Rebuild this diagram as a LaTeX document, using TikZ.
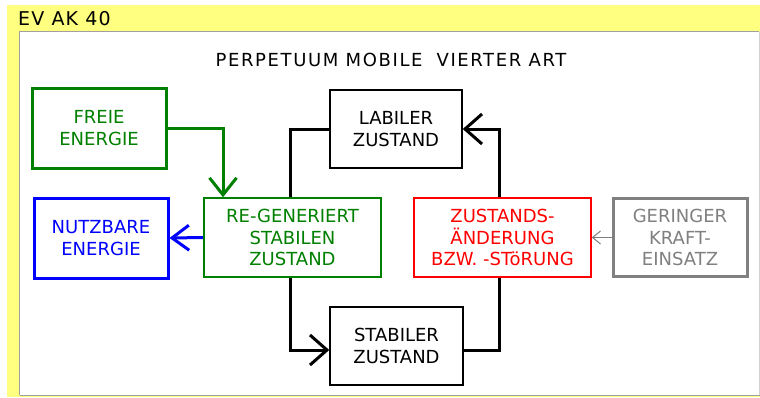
\documentclass[tikz,border=0pt]{standalone}
\usepackage{fontspec}
\setmainfont{DejaVu Sans}
\usetikzlibrary{arrows.meta}
\pgfdeclarelayer{bg}
\pgfsetlayers{bg,main}

\definecolor{panelyellow}{RGB}{255,255,128}
\definecolor{dkgreen}{RGB}{0,128,0}
\definecolor{pureblue}{RGB}{0,0,255}
\definecolor{purered}{RGB}{255,0,0}
\definecolor{midgray}{RGB}{128,128,128}
\definecolor{edgegray}{RGB}{160,160,160}
\definecolor{lightedge}{RGB}{210,210,210}

\newcommand\boxfont{\fontsize{18}{21.5}\selectfont}

\tikzset{
  stbox/.style={draw, fill=white, align=center, inner sep=0pt, font=\boxfont},
  thickbox/.style={stbox, line width=3pt},
  thinbox/.style={stbox, line width=1.5pt},
  inkcol/.style={draw=#1, text=#1},
  flow/.style={line width=3pt},
  bigbarb/.style={-{Straight Barb[length=17pt, width=30pt]}},
}

\begin{document}
\begin{tikzpicture}[x=1pt, y=-1pt]
\useasboundingbox (0,0) rectangle (760,397);

% window frame and drawing panel
\begin{pgfonlayer}{bg}
  \fill[panelyellow] (7,5) rectangle (760,397);
  \fill[white] (19,31) rectangle (758.5,395);
  \draw[edgegray, line width=1.5pt] (19.5,395) -- (19.5,31.5) -- (758.5,31.5);
  \draw[lightedge, line width=1pt] (759,31.5) -- (759,395);
  \draw[edgegray, line width=1.5pt] (19.5,395.5) -- (760,395.5);
\end{pgfonlayer}

\node[font=\fontsize{19}{22}\selectfont, anchor=west, inner sep=0pt] (wintitle) at (18,19)
  {\addfontfeature{LetterSpace=6}EV AK 40};
\node[font=\boxfont, inner sep=0pt] (heading) at (391,60)
  {\addfontfeature{LetterSpace=9}PERPETUUM MOBILE\hspace{14pt}VIERTER ART};

% boxes
\node[thickbox, inkcol=dkgreen, minimum width=134pt, minimum height=80pt] (freie) at (99,128)
  {FREIE\\ENERGIE};
\node[thickbox, inkcol=pureblue, minimum width=134pt, minimum height=80pt] (nutz) at (101,238)
  {NUTZBARE\\ENERGIE};
\node[thinbox, inkcol=dkgreen, minimum width=177pt, minimum height=79pt] (regen) at (292.5,237.5)
  {RE-GENERIERT\\STABILEN\\ZUSTAND};
\node[thinbox, inkcol=black, minimum width=132pt, minimum height=78pt] (labil) at (396,129)
  {LABILER\\ZUSTAND};
\node[thinbox, inkcol=black, minimum width=133pt, minimum height=78pt] (stabil) at (396.5,346)
  {STABILER\\ZUSTAND};
\node[thinbox, inkcol=purered, minimum width=177pt, minimum height=79pt] (zust) at (502.5,237.5)
  {ZUSTANDS-\\ÄNDERUNG\\BZW. -STöRUNG};
\node[thickbox, inkcol=midgray, minimum width=134pt, minimum height=78pt] (gering) at (680,237.5)
  {GERINGER\\KRAFT-\\EINSATZ};

% connectors, kept behind the boxes
\begin{pgfonlayer}{bg}
  \draw[flow, black, bigbarb] (labil.west) -- ++(-39,0) |- ([yshift=-4pt]stabil.west);
  \draw[flow, black, bigbarb] ([yshift=-4pt]stabil.east) -- ++(36,0) |- (labil.east);
  \draw[flow, dkgreen, -{Straight Barb[length=17pt, width=27pt]}]
    (freie.east) -| ([xshift=-69.5pt]regen.north);
  \draw[flow, pureblue, -{Straight Barb[length=17pt, width=25pt]}]
    (regen.west) -- (nutz.east);
  \draw[midgray, line width=1pt, -{Straight Barb[length=8pt, width=13pt]}]
    (gering.west) -- (zust.east);
\end{pgfonlayer}
\end{tikzpicture}
\end{document}
